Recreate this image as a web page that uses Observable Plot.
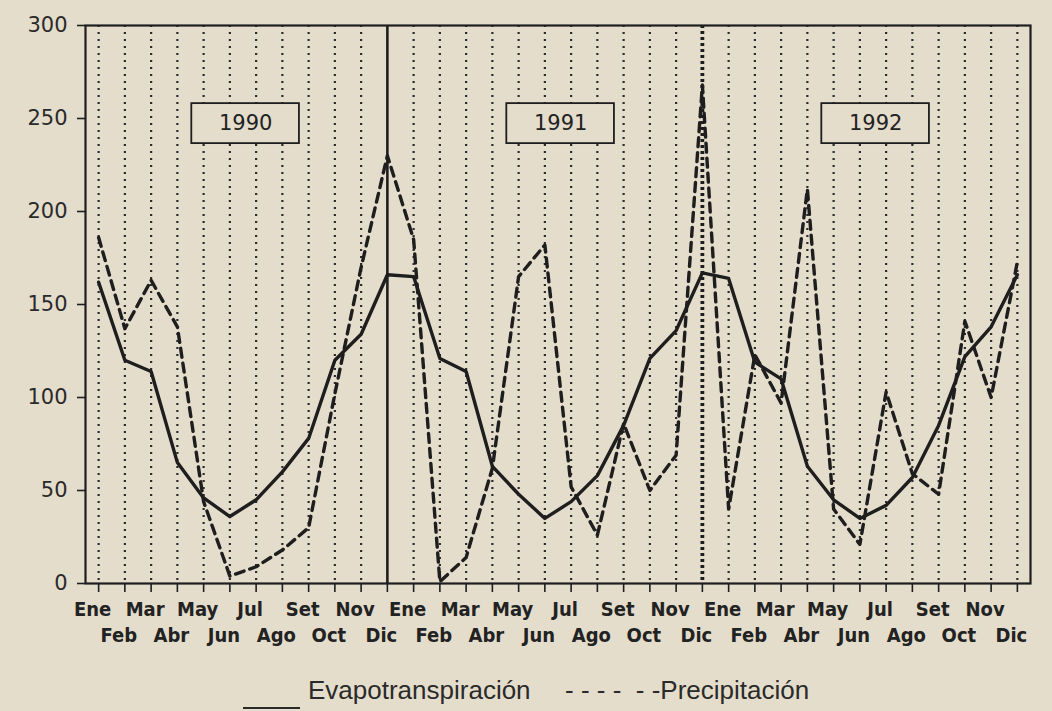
<!DOCTYPE html>
<html>
<head>
<meta charset="utf-8">
<script src="https://cdn.jsdelivr.net/npm/d3@7"></script>
<script src="https://cdn.jsdelivr.net/npm/@observablehq/plot@0.6"></script>
<style>
  html, body { margin: 0; padding: 0; background: #e4ddcc; }
  body { width: 1052px; height: 711px; position: relative; overflow: hidden; }
  #chart { position: absolute; left: 0; top: 0; }
  #legend { position: absolute; left: 0; top: 655px; width: 1052px; height: 56px;
            font-family: "Liberation Sans", Arial, sans-serif; font-size: 26px; color: #2a2a2a; }
  #legend .solid { position: absolute; left: 243px; top: 52px; width: 57px; height: 2px; background: #2a2a2a; }
  #legend .t1 { position: absolute; left: 308px; top: 20px; white-space: pre; }
  #legend .t2 { position: absolute; left: 565px; top: 20px; white-space: pre; }
</style>
</head>
<body>
<div id="chart"></div>
<div id="legend">
  <div class="solid"></div>
  <div class="t1">Evapotranspiración</div>
  <div class="t2">- - - -  - -Precipitación</div>
</div>
<script>
// ---- data ----
const monthLabels = ["Ene","Feb","Mar","Abr","May","Jun","Jul","Ago","Set","Oct","Nov","Dic"];
const years = [1990, 1991, 1992];
const evap1990 = [162, 120, 114, 65, 46, 36, 45, 60, 78, 120, 134, 166];
const evap1991 = [165, 121, 114, 63, 48, 35, 44, 58, 85, 121, 136, 167];
const evap1992 = [164, 119, 110, 63, 45, 35, 42, 57, 85, 122, 138, 166];
const prec1990 = [186, 137, 163, 138, 44, 4, 9, 18, 30, 102, 170, 230];
const prec1991 = [185, 1, 14, 62, 165, 182, 52, 26, 86, 50, 69, 268];
const prec1992 = [40, 123, 97, 212, 40, 21, 103, 59, 48, 141, 100, 173];
const yTicks = [0, 50, 100, 150, 200, 250, 300];

// ---- table ----
const evap = [...evap1990, ...evap1991, ...evap1992];
const prec = [...prec1990, ...prec1991, ...prec1992];
const data = evap.map((v, i) => ({i, month: monthLabels[i % 12], evap: v, prec: prec[i]}));
const idx = data.map(d => d.i);
const yearEnds = [11, 23];
const ink = "#1e1e1e";
const tickFont = "'Liberation Sans Narrow', 'DejaVu Sans Condensed', sans-serif";
const mid = y => (y - years[0]) * 12 + 5.6;

const chart = Plot.plot({
  width: 1052,
  height: 655,
  marginLeft: 85,
  marginRight: 22,
  marginTop: 25,
  marginBottom: 72,
  style: {background: "transparent", color: ink},
  x: {type: "linear", domain: [-0.5, 35.5], axis: null},
  y: {domain: [0, 300], axis: null},
  marks: [
    Plot.ruleX(idx.filter(i => !yearEnds.includes(i)), {stroke: "#2a2a2a", strokeWidth: 2.2, strokeDasharray: "2,5"}),
    Plot.ruleX([yearEnds[0]], {stroke: ink, strokeWidth: 2.6}),
    Plot.ruleX([yearEnds[1]], {stroke: ink, strokeWidth: 3.8, strokeDasharray: "3,3"}),
    Plot.frame({stroke: ink, strokeWidth: 2.2}),
    Plot.rect(years, {x1: d => mid(d) - 2.05, x2: d => mid(d) + 2.05, y1: 236.5, y2: 258, fill: "#e4ddcc", stroke: ink, strokeWidth: 1.8}),
    Plot.text(years, {x: mid, y: 247.2, text: d => String(d), fontSize: 21, fontFamily: "'DejaVu Sans', sans-serif", fill: "#222", letterSpacing: "3px"}),
    Plot.line(data, {x: "i", y: "evap", stroke: ink, strokeWidth: 3.4, strokeLinejoin: "round"}),
    Plot.line(data, {x: "i", y: "prec", stroke: ink, strokeWidth: 3.4, strokeDasharray: "9,6"}),
    Plot.axisY({ticks: yTicks, tickSize: 8, tickPadding: 10, label: null, fontSize: 21, fontFamily: "'DejaVu Sans', sans-serif", fill: "#2a2a2a", stroke: ink, strokeWidth: 1.6}),
    Plot.axisX({ticks: idx, tickSize: 9, tickFormat: () => "", label: null, stroke: ink, strokeWidth: 1.6}),
    Plot.text(data.filter(d => d.i % 2 === 0), {x: "i", y: 0, text: "month", dx: -6, dy: 32, lineAnchor: "bottom",
      fontSize: 20, fontWeight: "bold", fontFamily: tickFont, fill: "#222"}),
    Plot.text(data.filter(d => d.i % 2 === 1), {x: "i", y: 0, text: "month", dx: -6, dy: 58, lineAnchor: "bottom",
      fontSize: 20, fontWeight: "bold", fontFamily: tickFont, fill: "#222"})
  ]
});
document.getElementById("chart").appendChild(chart);
</script>
</body>
</html>
